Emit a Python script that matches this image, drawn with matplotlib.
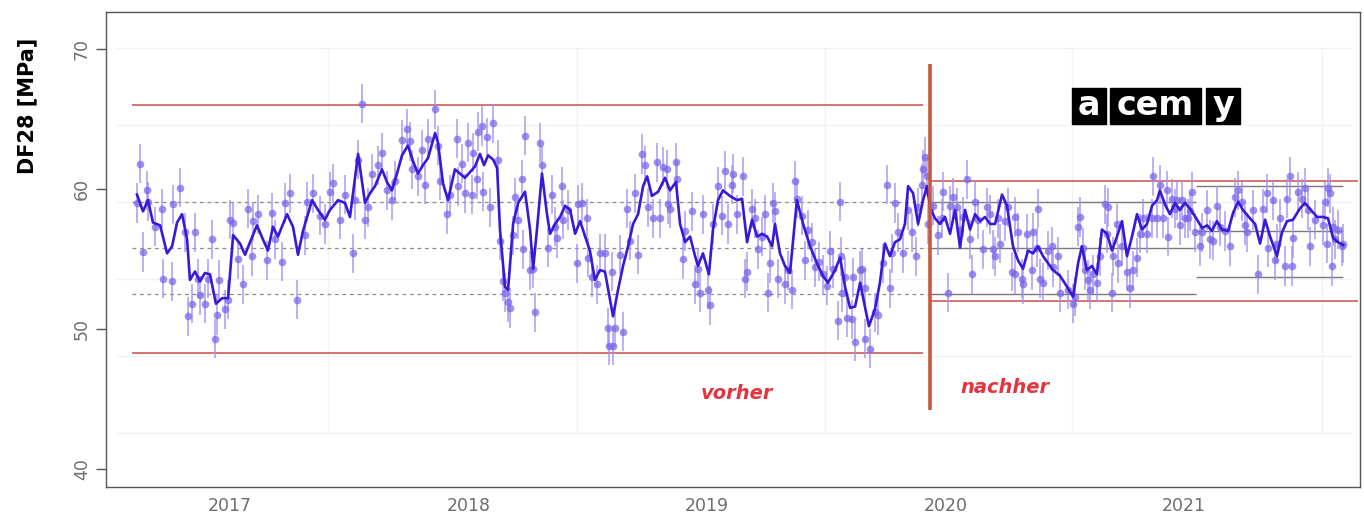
import matplotlib
matplotlib.use("Agg")
import matplotlib.pyplot as plt
from matplotlib.patches import Rectangle

# ---------------- data (time in decimal years, DF28 in MPa) ----------------
# smoothed (moving average) curve
trend_a = [(2016.610, 59.6), (2016.635, 58.4), (2016.656, 59.2), (2016.677, 57.6), (2016.707, 57.4),
           (2016.736, 55.4), (2016.757, 55.9), (2016.778, 57.6), (2016.799, 58.2), (2016.820, 56.4),
           (2016.832, 53.5), (2016.853, 54.1), (2016.874, 53.4), (2016.895, 54.0), (2016.916, 53.9),
           (2016.941, 51.8), (2016.967, 52.2), (2016.992, 52.2), (2017.013, 56.7), (2017.042, 56.1),
           (2017.063, 55.3), (2017.084, 56.2), (2017.113, 57.4), (2017.138, 56.4), (2017.159, 55.6),
           (2017.180, 57.3), (2017.201, 56.6), (2017.239, 58.2), (2017.264, 57.3), (2017.285, 55.3),
           (2017.306, 57.0), (2017.344, 59.2), (2017.369, 58.5), (2017.398, 57.8), (2017.419, 58.5),
           (2017.453, 59.2), (2017.482, 59.0)]
trend_b = [(2017.503, 58.0), (2017.537, 62.5), (2017.566, 59.0), (2017.587, 59.7), (2017.608, 60.2),
           (2017.637, 61.4), (2017.658, 60.5), (2017.679, 59.9), (2017.700, 61.1), (2017.721, 62.4),
           (2017.746, 63.1), (2017.767, 62.0), (2017.788, 61.1), (2017.809, 61.7), (2017.830, 62.2),
           (2017.860, 64.0), (2017.872, 63.3), (2017.893, 60.4), (2017.914, 59.2), (2017.943, 61.4),
           (2017.964, 61.1), (2017.985, 60.8), (2018.006, 61.2), (2018.027, 61.6), (2018.048, 62.5),
           (2018.065, 61.7), (2018.082, 62.4), (2018.103, 62.1), (2018.120, 61.5), (2018.132, 57.1),
           (2018.153, 53.0), (2018.166, 52.8), (2018.187, 57.5), (2018.208, 59.0), (2018.237, 59.8),
           (2018.258, 57.1), (2018.271, 54.3), (2018.287, 57.1), (2018.308, 61.1), (2018.329, 58.2),
           (2018.342, 56.8), (2018.363, 57.5), (2018.384, 58.0), (2018.405, 58.8), (2018.426, 58.5)]
trend_c = [(2018.447, 56.8), (2018.468, 57.7), (2018.489, 56.6), (2018.509, 55.6), (2018.530, 53.5),
           (2018.551, 54.2), (2018.572, 54.1), (2018.593, 52.1), (2018.606, 50.9), (2018.627, 52.8),
           (2018.648, 54.5), (2018.669, 55.9), (2018.690, 57.5), (2018.711, 58.2), (2018.732, 60.2),
           (2018.749, 60.9), (2018.769, 59.5), (2018.795, 59.8), (2018.824, 60.8), (2018.845, 59.9),
           (2018.870, 60.5), (2018.887, 57.5), (2018.908, 56.2), (2018.929, 56.6), (2018.950, 55.2),
           (2018.962, 54.5), (2018.983, 55.4), (2019.008, 53.9), (2019.025, 57.1), (2019.046, 59.2),
           (2019.067, 59.9), (2019.096, 59.5), (2019.126, 59.2), (2019.147, 59.3), (2019.168, 56.2),
           (2019.189, 57.8), (2019.210, 56.6), (2019.231, 56.8), (2019.252, 56.6), (2019.273, 55.9),
           (2019.285, 57.5), (2019.306, 55.4), (2019.327, 54.5), (2019.348, 54.0)]
trend_d = [(2019.377, 59.2), (2019.403, 57.5), (2019.432, 55.9), (2019.461, 54.7), (2019.486, 53.8),
           (2019.507, 53.3), (2019.537, 54.2), (2019.558, 55.1), (2019.579, 53.0), (2019.600, 51.5),
           (2019.621, 51.6), (2019.642, 53.3), (2019.662, 51.6), (2019.679, 50.2), (2019.704, 51.4),
           (2019.725, 53.3), (2019.746, 56.1), (2019.767, 55.2), (2019.788, 56.2), (2019.809, 56.4),
           (2019.830, 57.5), (2019.843, 60.2), (2019.864, 59.7), (2019.885, 57.5), (2019.906, 59.2),
           (2019.922, 60.2), (2019.935, 58.7), (2019.956, 57.9), (2019.977, 57.5), (2019.998, 58.0),
           (2020.019, 56.8), (2020.040, 58.5), (2020.061, 55.8), (2020.082, 58.5), (2020.103, 57.1),
           (2020.124, 58.2), (2020.145, 57.7), (2020.166, 58.0), (2020.187, 57.5), (2020.208, 57.5),
           (2020.237, 59.6), (2020.258, 58.8)]
trend_e = [(2020.283, 55.9), (2020.304, 54.9), (2020.325, 54.3), (2020.346, 55.6), (2020.367, 55.4),
           (2020.388, 55.9), (2020.409, 55.2), (2020.430, 54.7), (2020.451, 54.2), (2020.480, 53.8),
           (2020.510, 53.0), (2020.535, 52.3), (2020.556, 54.7), (2020.572, 55.9), (2020.593, 54.2),
           (2020.614, 54.5), (2020.635, 53.9), (2020.656, 57.1), (2020.677, 56.8), (2020.698, 55.6),
           (2020.719, 56.6), (2020.740, 57.7), (2020.761, 55.2), (2020.782, 56.6), (2020.803, 58.2),
           (2020.824, 57.1), (2020.845, 57.5), (2020.866, 58.8), (2020.887, 59.2), (2020.899, 59.9),
           (2020.920, 58.9), (2020.941, 58.2), (2020.962, 59.0), (2020.983, 58.5), (2021.004, 59.0),
           (2021.025, 58.6), (2021.055, 57.8), (2021.076, 57.2), (2021.097, 57.4), (2021.117, 57.0),
           (2021.138, 57.7), (2021.159, 57.1), (2021.185, 57.0), (2021.206, 58.3), (2021.227, 59.1),
           (2021.247, 58.5), (2021.277, 57.9), (2021.298, 57.5), (2021.319, 56.1), (2021.340, 57.8),
           (2021.361, 56.6), (2021.390, 55.2), (2021.411, 56.9), (2021.432, 57.7), (2021.457, 57.8),
           (2021.486, 58.6), (2021.507, 59.0), (2021.537, 58.4), (2021.558, 58.0), (2021.583, 58.0),
           (2021.604, 57.9), (2021.625, 56.5), (2021.646, 56.2), (2021.667, 56.0)]

# individual measurements (shown with error bars)
obs_a = [(2016.610, 59.0), (2016.623, 61.8), (2016.635, 55.5), (2016.652, 59.9), (2016.656, 59.1),
         (2016.686, 57.3), (2016.715, 58.6), (2016.719, 53.6), (2016.757, 53.4), (2016.761, 58.9),
         (2016.790, 60.1), (2016.811, 56.9), (2016.824, 50.9), (2016.841, 51.8), (2016.853, 56.9),
         (2016.866, 53.6), (2016.874, 52.4), (2016.895, 51.8), (2016.908, 53.6), (2016.925, 56.4),
         (2016.937, 49.3), (2016.946, 51.0), (2016.954, 53.5), (2016.979, 51.4), (2016.992, 52.1),
         (2017.000, 57.8), (2017.013, 57.6), (2017.034, 55.0), (2017.055, 53.2), (2017.075, 58.6),
         (2017.092, 55.2), (2017.096, 57.7), (2017.117, 58.2), (2017.155, 54.9), (2017.176, 58.3),
         (2017.189, 56.4), (2017.218, 54.8), (2017.231, 59.0), (2017.252, 59.7), (2017.281, 52.1),
         (2017.314, 56.7), (2017.323, 59.1), (2017.348, 59.7), (2017.377, 58.1), (2017.398, 57.5),
         (2017.419, 59.8), (2017.432, 60.4), (2017.461, 57.8), (2017.482, 59.6)]
obs_b = [(2017.516, 55.4), (2017.524, 59.2), (2017.537, 62.1), (2017.554, 66.1), (2017.566, 57.8),
         (2017.579, 58.7), (2017.595, 61.1), (2017.620, 61.7), (2017.637, 62.6), (2017.658, 59.9),
         (2017.679, 59.2), (2017.692, 60.6), (2017.721, 63.5), (2017.742, 64.3), (2017.755, 63.4),
         (2017.763, 61.4), (2017.788, 60.9), (2017.805, 62.8), (2017.817, 60.3), (2017.830, 63.6),
         (2017.860, 65.7), (2017.872, 63.1), (2017.881, 60.6), (2017.910, 58.2), (2017.922, 59.6),
         (2017.952, 63.6), (2017.956, 60.2), (2017.973, 61.8), (2017.985, 59.7), (2017.998, 63.3),
         (2018.015, 59.6), (2018.019, 62.6), (2018.036, 60.7), (2018.040, 64.1), (2018.057, 64.5),
         (2018.061, 59.8), (2018.078, 63.7), (2018.090, 58.7), (2018.103, 64.7), (2018.124, 62.1),
         (2018.132, 56.3), (2018.145, 53.4), (2018.153, 52.6), (2018.166, 51.9), (2018.174, 51.5),
         (2018.187, 56.7), (2018.195, 59.4), (2018.208, 57.8), (2018.224, 60.7), (2018.229, 55.7),
         (2018.237, 63.8), (2018.258, 54.2), (2018.271, 54.3), (2018.279, 51.2), (2018.300, 63.3),
         (2018.308, 61.7), (2018.334, 55.8), (2018.350, 59.6), (2018.363, 57.3), (2018.371, 56.5),
         (2018.392, 60.2), (2018.396, 57.8), (2018.417, 58.5)]
obs_c = [(2018.455, 54.7), (2018.459, 58.9), (2018.476, 59.0), (2018.497, 57.9), (2018.499, 55.1),
         (2018.518, 53.7), (2018.539, 53.2), (2018.551, 55.4), (2018.572, 55.4), (2018.585, 50.1),
         (2018.587, 48.8), (2018.602, 54.1), (2018.606, 48.8), (2018.614, 50.1), (2018.635, 55.3),
         (2018.648, 49.8), (2018.665, 58.6), (2018.677, 56.3), (2018.698, 59.7), (2018.711, 55.3),
         (2018.727, 62.5), (2018.740, 61.7), (2018.753, 58.7), (2018.774, 57.9), (2018.790, 61.9),
         (2018.803, 57.9), (2018.816, 61.6), (2018.832, 61.4), (2018.837, 58.9), (2018.845, 58.6),
         (2018.870, 61.9), (2018.874, 60.7), (2018.899, 55.0), (2018.908, 57.0), (2018.937, 58.4),
         (2018.950, 53.2), (2018.962, 54.3), (2018.971, 52.6), (2018.983, 58.2), (2019.004, 52.8),
         (2019.013, 51.7), (2019.025, 57.5), (2019.046, 60.2), (2019.063, 58.1), (2019.075, 61.3),
         (2019.088, 57.5), (2019.105, 60.3), (2019.109, 61.1), (2019.126, 58.2), (2019.151, 60.9),
         (2019.159, 53.6), (2019.168, 54.1), (2019.189, 58.6), (2019.201, 57.9), (2019.214, 55.7),
         (2019.231, 56.6), (2019.243, 58.2), (2019.256, 52.6), (2019.264, 54.7), (2019.277, 59.0),
         (2019.285, 58.4), (2019.298, 53.6), (2019.327, 53.2), (2019.340, 54.2)]
obs_d = [(2019.356, 52.8), (2019.369, 60.6), (2019.377, 59.3), (2019.398, 58.1), (2019.411, 54.9),
         (2019.424, 57.1), (2019.440, 56.2), (2019.453, 54.4), (2019.470, 54.8), (2019.488, 53.9),
         (2019.503, 53.1), (2019.516, 55.6), (2019.528, 54.3), (2019.549, 50.6), (2019.558, 59.1),
         (2019.560, 55.2), (2019.566, 52.6), (2019.579, 53.7), (2019.587, 50.8), (2019.608, 50.7),
         (2019.612, 53.7), (2019.621, 49.1), (2019.642, 54.2), (2019.650, 54.3), (2019.662, 52.9),
         (2019.664, 49.3), (2019.683, 48.6), (2019.704, 51.2), (2019.717, 51.0), (2019.738, 54.7),
         (2019.755, 60.3), (2019.767, 52.9), (2019.776, 55.4), (2019.788, 59.0), (2019.801, 56.9),
         (2019.822, 55.4), (2019.843, 58.5), (2019.860, 56.9), (2019.876, 55.2), (2019.885, 58.7),
         (2019.902, 60.3), (2019.906, 61.4), (2019.914, 62.3), (2019.922, 60.9), (2019.927, 57.5),
         (2019.948, 58.8), (2019.969, 56.7), (2019.985, 57.9), (2019.989, 59.8), (2020.010, 52.6),
         (2020.019, 58.8), (2020.031, 59.4), (2020.048, 58.7), (2020.061, 57.1), (2020.073, 58.0),
         (2020.090, 60.7), (2020.103, 56.4), (2020.111, 53.9), (2020.124, 59.1), (2020.136, 57.8),
         (2020.157, 55.7), (2020.174, 58.7), (2020.187, 58.2), (2020.199, 55.7), (2020.208, 55.2),
         (2020.220, 57.9), (2020.229, 56.1), (2020.250, 57.7)]
obs_e = [(2020.262, 58.7), (2020.279, 54.1), (2020.291, 58.0), (2020.293, 53.9), (2020.304, 56.9),
         (2020.321, 53.6), (2020.325, 53.2), (2020.342, 56.8), (2020.363, 54.2), (2020.367, 56.9),
         (2020.384, 55.8), (2020.388, 58.6), (2020.396, 53.6), (2020.409, 53.3), (2020.430, 55.6),
         (2020.447, 55.9), (2020.451, 54.4), (2020.472, 55.2), (2020.480, 52.6), (2020.514, 52.8),
         (2020.535, 51.8), (2020.543, 52.3), (2020.556, 57.3), (2020.564, 58.0), (2020.577, 55.8),
         (2020.585, 54.2), (2020.597, 53.5), (2020.606, 52.8), (2020.618, 53.9), (2020.635, 53.3),
         (2020.648, 55.2), (2020.669, 58.9), (2020.677, 56.8), (2020.681, 58.7), (2020.698, 52.6),
         (2020.702, 55.2), (2020.719, 57.5), (2020.723, 54.7), (2020.740, 55.9), (2020.761, 54.1),
         (2020.774, 52.9), (2020.786, 54.2), (2020.803, 55.1), (2020.816, 56.8), (2020.828, 57.9),
         (2020.845, 56.8), (2020.866, 57.9), (2020.870, 60.9), (2020.887, 57.9), (2020.899, 60.3),
         (2020.912, 57.9), (2020.929, 59.9), (2020.933, 56.6), (2020.950, 59.3), (2020.962, 58.6),
         (2020.971, 59.2), (2020.983, 57.4), (2020.992, 59.2), (2021.004, 57.9), (2021.017, 57.9),
         (2021.025, 58.4), (2021.034, 59.8), (2021.046, 56.9)]
obs_f = [(2021.067, 55.9), (2021.076, 56.9), (2021.097, 58.5), (2021.109, 56.4), (2021.122, 56.3),
         (2021.138, 58.8), (2021.151, 57.3), (2021.170, 57.0), (2021.193, 55.9), (2021.214, 59.4),
         (2021.227, 59.9), (2021.244, 59.1), (2021.256, 57.4), (2021.265, 56.9), (2021.290, 58.5),
         (2021.311, 53.9), (2021.332, 58.6), (2021.348, 59.7), (2021.352, 55.8), (2021.373, 59.2),
         (2021.382, 54.9), (2021.390, 56.1), (2021.403, 57.9), (2021.423, 54.5), (2021.432, 59.3),
         (2021.444, 60.9), (2021.453, 54.5), (2021.457, 56.5), (2021.478, 59.8), (2021.495, 59.3),
         (2021.507, 60.1), (2021.520, 58.5), (2021.528, 55.9), (2021.549, 57.8), (2021.583, 57.4),
         (2021.591, 59.1), (2021.600, 56.1), (2021.604, 60.1), (2021.612, 59.7), (2021.621, 54.5),
         (2021.625, 57.3), (2021.633, 56.4), (2021.646, 57.1), (2021.662, 55.9), (2021.667, 56.1)]
obs_err = 1.4

# control limits
before_limits = [66.0, 48.3]
before_bands = [59.1, 55.8, 52.5]
after_limits = [60.6, 52.0]
after_bands_1 = [59.1, 55.8, 52.5]
after_bands_2 = [60.2, 57.0, 53.7]
t_start, t_change, t_split, t_end = 2016.59, 2019.937, 2021.05, 2021.665

year_ticks = [2017, 2018, 2019, 2020, 2021]
y_ticks = [40, 50, 60, 70]
label_before, label_after = "vorher", "nachher"

# ---------------- drawing ----------------
W, H = 1364, 515
fig = plt.figure(figsize=(W / 100, H / 100), dpi=100)
ax = fig.add_axes([106 / W, 1 - 487 / H, (1360 - 106) / W, (487 - 12) / H])
ax.set_xlim(2016.480, 2021.738)
ax.set_ylim(38.71, 72.64)

# faint background panel grid
for gy in [70.07, 64.57, 59.07, 53.57, 48.07, 42.57]:
    ax.plot([2016.52, 2021.70], [gy, gy], color="#f2f2f2", lw=1.0, zorder=0)
for gx in [2017.411, 2018.455, 2019.495, 2020.530, 2021.578]:
    ax.plot([gx, gx], [42.57, 70.07], color="#f2f2f2", lw=1.0, zorder=0)

# before section
ax.hlines(before_limits, t_start, 2019.906, color="#c9504a", lw=1.1, zorder=1)
ax.hlines(before_bands, t_start, t_change, color="#8a8a8a", lw=0.9,
          linestyles=(0, (3, 3)), zorder=1)
# after section
ax.hlines(after_limits, t_change, 2021.73, color="#c9504a", lw=1.1, zorder=1)
ax.hlines(after_bands_1, t_change, t_split, color="#7a7a7a", lw=1.0, zorder=1)
ax.hlines(after_bands_2, t_split, t_end, color="#7a7a7a", lw=1.0, zorder=1)

obs = obs_a + obs_b + obs_c + obs_d + obs_e + obs_f
ot = [p[0] for p in obs]
ov = [p[1] for p in obs]
ax.errorbar(ot, ov, yerr=obs_err, fmt="o", ms=5.5, color="#7764e8", mec="none",
            ecolor="#a093f2", elinewidth=1.4, alpha=0.72, zorder=2)

trend = trend_a + trend_b + trend_c + trend_d + trend_e
ax.plot([p[0] for p in trend], [p[1] for p in trend], color="#3a18d8", lw=1.9, zorder=3)

# change marker
ax.vlines(t_change, 44.2, 68.9, color="#c9583e", lw=2.6, zorder=4)

ax.text(2019.126, 45.4, label_before, color="#e4343f", fontsize=14, fontweight="bold",
        fontstyle="italic", ha="center", va="center", zorder=5)
ax.text(2020.250, 45.8, label_after, color="#e4343f", fontsize=14, fontweight="bold",
        fontstyle="italic", ha="center", va="center", zorder=5)

# axes styling
ax.set_xticks(year_ticks)
ax.set_xticklabels([str(y) for y in year_ticks])
ax.set_yticks(y_ticks)
ax.set_yticklabels([str(y) for y in y_ticks], rotation=90, va="center")
ax.tick_params(axis="x", length=0, pad=7, labelsize=12.5, labelcolor="#6e6e6e")
ax.tick_params(axis="y", length=7, width=1, color="#555555", pad=4, labelsize=12.5,
               labelcolor="#6e6e6e")
for s in ax.spines.values():
    s.set_color("#555555")
    s.set_linewidth(1.0)

fig.text(27 / W, 1 - 106 / H, "DF28 [MPa]", rotation=90, ha="center", va="center",
         fontsize=15, fontweight="bold", color="black")

# logo
for x0, x1, txt in [(1072, 1106, "a"), (1110, 1201, "cem"), (1206, 1240, "y")]:
    fig.add_artist(Rectangle((x0 / W, 1 - 124 / H), (x1 - x0) / W, 36 / H,
                             transform=fig.transFigure, color="black", zorder=6))
    fig.text((x0 + x1) / 2 / W, 1 - 115 / H, txt, color="white", fontsize=24,
             fontweight="bold", ha="center", va="baseline", zorder=7)

fig.savefig("out.png", dpi=100)
